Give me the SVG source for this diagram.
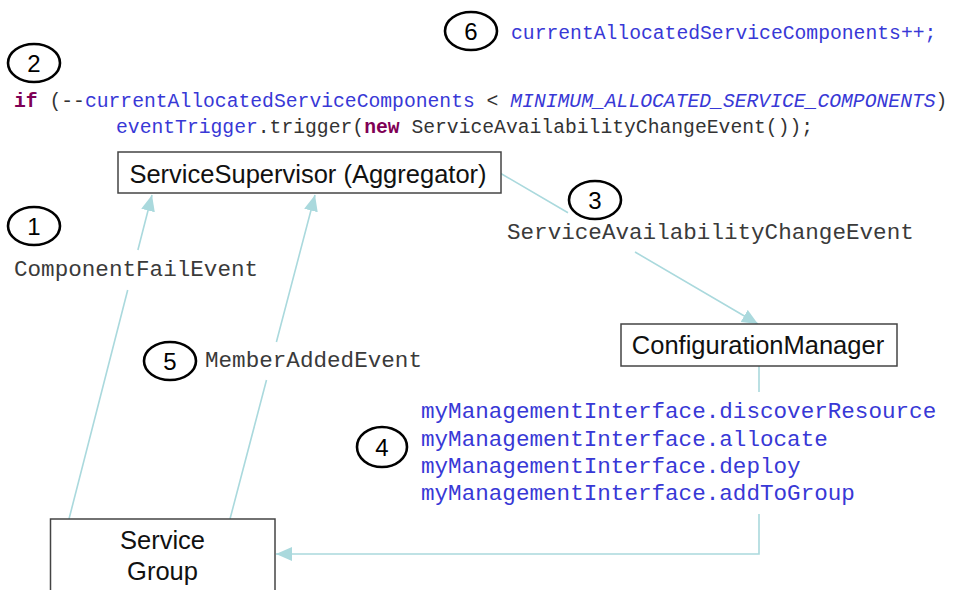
<svg xmlns="http://www.w3.org/2000/svg" width="955" height="590" viewBox="0 0 955 590">
<defs>
<style>
.box{fill:#fff;stroke:#444;stroke-width:1.5}
.nodet{font-family:"Liberation Sans",Arial,sans-serif;font-size:25.5px;fill:#111;text-anchor:middle}
.num{fill:#fff;stroke:#000;stroke-width:2.6}
.numt{font-family:"Liberation Sans",Arial,sans-serif;font-size:24px;fill:#000;text-anchor:middle}
.lbl{font-family:"Liberation Mono","Courier New",monospace;font-size:22.6px;fill:#3a3a3a}
.code{font-family:"Liberation Mono","Courier New",monospace;font-size:19.7px;fill:#333}
.blue{fill:#3838d6}
.kw{fill:#7f0055;font-weight:bold}
.conn{fill:none;stroke:#aad9dd;stroke-width:1.6}
</style>
<marker id="ah" markerUnits="userSpaceOnUse" markerWidth="18" markerHeight="16" refX="16" refY="7" orient="auto">
<path d="M0,0 L16,7 L0,14 z" fill="#aad9dd"/>
</marker>
</defs>
<rect width="955" height="590" fill="#fff"/>

<g id="connectors">
<path class="conn" d="M69,519 L127.7,290 M137.9,250 L152,195" marker-end="url(#ah)"/>
<path class="conn" d="M230,519 L266.5,380 M276.4,342 L315,195" marker-end="url(#ah)"/>
<path class="conn" d="M500,173 L568,212.8 M635,252 L758,324" marker-end="url(#ah)"/>
<path class="conn" d="M759,366 L759,392 M759,514 L759,554 L276,554" marker-end="url(#ah)"/>
</g>

<g id="code-top">
<ellipse class="num" cx="471" cy="31" rx="26" ry="19"/>
<text class="numt" x="471" y="39.5">6</text>
<text class="code blue" x="511" y="39">currentAllocatedServiceComponents++;</text>
<ellipse class="num" cx="34" cy="63" rx="26" ry="19"/>
<text class="numt" x="34" y="71.5">2</text>
<text class="code" x="14" y="107" xml:space="preserve"><tspan class="kw">if</tspan> (--<tspan class="blue">currentAllocatedServiceComponents</tspan> &lt; <tspan class="blue" font-style="italic">MINIMUM_ALLOCATED_SERVICE_COMPONENTS</tspan>)</text>
<text class="code" x="116" y="133" xml:space="preserve"><tspan class="blue">eventTrigger</tspan>.trigger(<tspan class="kw">new</tspan> ServiceAvailabilityChangeEvent());</text>
</g>

<g id="service-supervisor">
<rect class="box" x="118" y="152" width="383" height="41"/>
<text class="nodet" x="308" y="183">ServiceSupervisor (Aggregator)</text>
</g>

<g id="configuration-manager">
<rect class="box" x="621" y="324" width="276" height="42"/>
<text class="nodet" x="758" y="354">ConfigurationManager</text>
</g>

<g id="service-group">
<rect class="box" x="50.5" y="519" width="224.5" height="80"/>
<text class="nodet" x="162.5" y="549">Service</text>
<text class="nodet" x="162.5" y="580">Group</text>
</g>

<g id="label-1">
<ellipse class="num" cx="34" cy="226" rx="26" ry="19"/>
<text class="numt" x="34" y="234.5">1</text>
<text class="lbl" x="14" y="276">ComponentFailEvent</text>
</g>

<g id="label-5">
<ellipse class="num" cx="170" cy="361" rx="26" ry="19"/>
<text class="numt" x="170" y="369.5">5</text>
<text class="lbl" x="205" y="367">MemberAddedEvent</text>
</g>

<g id="label-3">
<ellipse class="num" cx="595" cy="200" rx="26" ry="19"/>
<text class="numt" x="595" y="208.5">3</text>
<text class="lbl" x="507" y="239">ServiceAvailabilityChangeEvent</text>
</g>

<g id="label-4">
<ellipse class="num" cx="382" cy="447" rx="25" ry="20"/>
<text class="numt" x="382" y="455.5">4</text>
<text class="lbl blue" x="421" y="418">myManagementInterface.discoverResource</text>
<text class="lbl blue" x="421" y="446">myManagementInterface.allocate</text>
<text class="lbl blue" x="421" y="473">myManagementInterface.deploy</text>
<text class="lbl blue" x="421" y="500">myManagementInterface.addToGroup</text>
</g>
</svg>
